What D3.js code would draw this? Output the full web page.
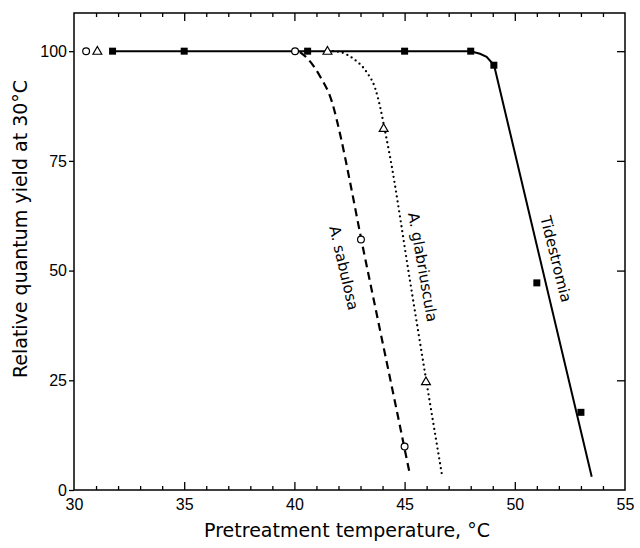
<!DOCTYPE html>
<html>
<head>
<meta charset="utf-8">
<script src="https://d3js.org/d3.v7.min.js"></script>
<style>
body { margin: 0; background: #fff; }
svg { display: block; font-family: "DejaVu Sans", sans-serif; }
.tick text { font-size: 16px; fill: #000; }
.tick line { stroke: #000; stroke-width: 1.3; }
</style>
</head>
<body>
<svg width="640" height="548"></svg>
<script>

// measured points (temperature, relative yield)
var tideT = [31.75, 35, 40.6, 45, 48, 49.05, 51, 53];
var tideY = [100, 100, 100, 100, 100, 96.8, 47.2, 17.7];
var sabT = [30.55, 40.03, 43.02, 45];
var sabY = [100, 100, 57.1, 9.9];
var glabT = [31.06, 41.5, 44.05, 45.97];
var glabY = [100, 100, 82.4, 24.7];

// hand-fitted curves
var tideFitT = [31.75, 48, 48.42, 48.72, 48.92, 49.06, 53.49];
var tideFitY = [100, 100, 99.4, 98.7, 97.6, 96.8, 3];
var sabFitT = [40.25, 40.6, 41.16, 41.7, 42.1, 42.52, 43.0, 43.73, 44.64, 45.25];
var sabFitY = [99.8, 98.3, 94.3, 88.5, 80.5, 70.3, 58, 40.2, 18.2, 3.3];
var glabFitT = [41.75, 42.07, 42.67, 43.28, 43.66, 43.88, 44.08, 44.34, 45.25, 45.97, 46.71];
var glabFitY = [100, 99.8, 98.3, 95.2, 91.6, 87.5, 82.6, 75.9, 47.5, 25.3, 3];

// curve labels: text, temperature, yield, angle
var labelText = ["A. sabulosa", "A. glabriuscula", "Tidestromia"];
var labelT = [42.25, 45.83, 51.87];
var labelY = [50.6, 50.8, 52.6];
var labelAngle = [77, 80, 76];

var xLabels = [30, 35, 40, 45, 50, 55];
var xMinor = d3.range(31, 55).filter(function(d) { return d % 5 != 0; });
var xMajor = [35, 40, 45, 50];
var yLabels = [0, 25, 50, 75, 100];
var yMax = 108.7;

var svg = d3.select("svg"),
    pLeft = 74, pRight = 625, pTop = 13, pBottom = 490;

var x = d3.scaleLinear().domain([30, 55]).range([pLeft, pRight]);
var y = d3.scaleLinear().domain([0, yMax]).range([pBottom, pTop]);

function zip(a, b) { return a.map(function(d, i) { return [d, b[i]]; }); }

function axis(gen, tx, ty) {
  var g = svg.append("g").attr("transform", "translate(" + tx + "," + ty + ")").call(gen);
  g.select(".domain").remove();
  return g;
}

// bottom and top ticks point inwards
axis(d3.axisBottom(x).tickValues(xMinor).tickSize(-4).tickFormat(""), 0, pBottom);
axis(d3.axisBottom(x).tickValues(xMajor).tickSize(-8).tickFormat(""), 0, pBottom);
axis(d3.axisBottom(x).tickValues(xLabels).tickSize(0).tickPadding(9), 0, pBottom);
axis(d3.axisTop(x).tickValues(xMinor).tickSize(-4).tickFormat(""), 0, pTop);
axis(d3.axisTop(x).tickValues(xMajor).tickSize(-8).tickFormat(""), 0, pTop);

axis(d3.axisLeft(y).tickValues(yLabels).tickSize(5).tickPadding(2), pLeft, 0);
axis(d3.axisRight(y).tickValues(yLabels.slice(1)).tickSize(-8).tickFormat(""), pRight, 0);

svg.append("rect")
    .attr("x", pLeft).attr("y", pTop)
    .attr("width", pRight - pLeft).attr("height", pBottom - pTop)
    .attr("fill", "none").attr("stroke", "#000").attr("stroke-width", 1.5);

// fitted curves
var lineLin = d3.line().x(function(d) { return x(d[0]); }).y(function(d) { return y(d[1]); });
var lineSmooth = d3.line().curve(d3.curveMonotoneX)
    .x(function(d) { return x(d[0]); }).y(function(d) { return y(d[1]); });

svg.append("path").datum(zip(tideFitT, tideFitY))
    .attr("d", lineLin).attr("fill", "none").attr("stroke", "#000")
    .attr("stroke-width", 2);
svg.append("path").datum(zip(sabFitT, sabFitY))
    .attr("d", lineSmooth).attr("fill", "none").attr("stroke", "#000")
    .attr("stroke-width", 2.2).attr("stroke-dasharray", "8,5");
svg.append("path").datum(zip(glabFitT, glabFitY))
    .attr("d", lineSmooth).attr("fill", "none").attr("stroke", "#000")
    .attr("stroke-width", 2.3).attr("stroke-linecap", "round").attr("stroke-dasharray", "0,5");

// markers
svg.selectAll(".sq").data(zip(tideT, tideY)).enter().append("rect")
    .attr("x", function(d) { return x(d[0]) - 3.5; })
    .attr("y", function(d) { return y(d[1]) - 3.5; })
    .attr("width", 7).attr("height", 7).attr("fill", "#000");

svg.selectAll(".ci").data(zip(sabT, sabY)).enter().append("circle")
    .attr("cx", function(d) { return x(d[0]); })
    .attr("cy", function(d) { return y(d[1]); })
    .attr("r", 3.4).attr("fill", "#fff").attr("stroke", "#000").attr("stroke-width", 1.2);

var tri = d3.symbol().type(d3.symbolTriangle).size(34);
svg.selectAll(".tr").data(zip(glabT, glabY)).enter().append("path")
    .attr("d", tri)
    .attr("transform", function(d) { return "translate(" + x(d[0]) + "," + (y(d[1]) + 0.5) + ")"; })
    .attr("fill", "#fff").attr("stroke", "#000").attr("stroke-width", 1.2);

// curve labels
labelText.forEach(function(t, i) {
  svg.append("text")
      .attr("transform", "translate(" + x(labelT[i]) + "," + y(labelY[i]) + ") rotate(" + labelAngle[i] + ")")
      .attr("text-anchor", "middle").attr("dy", "0.35em")
      .style("font-size", "15px")
      .text(t);
});

// axis titles
svg.append("text")
    .attr("x", 347).attr("y", 537)
    .attr("text-anchor", "middle")
    .style("font-size", "19px")
    .text("Pretreatment temperature, °C");

svg.append("text")
    .attr("transform", "translate(27,229) rotate(-90)")
    .attr("text-anchor", "middle")
    .style("font-size", "19px")
    .text("Relative quantum yield at 30°C");

</script>
</body>
</html>
